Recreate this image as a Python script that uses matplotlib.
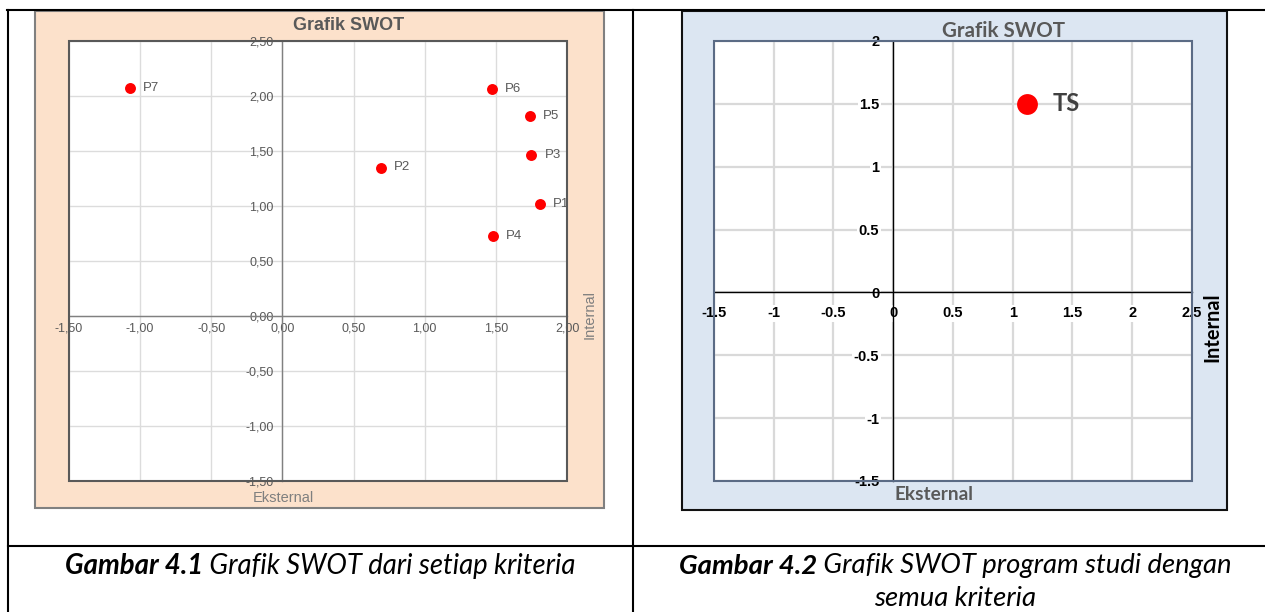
import matplotlib
matplotlib.use("Agg")
import matplotlib.pyplot as plt
from matplotlib.patches import Rectangle
from matplotlib.lines import Line2D

# ---------------- data ----------------
left_labels = ["P1", "P2", "P3", "P4", "P5", "P6", "P7"]
left_x = [1.81, 0.69, 1.75, 1.48, 1.74, 1.47, -1.07]
left_y = [1.02, 1.35, 1.46, 0.73, 1.82, 2.06, 2.07]
left_xticks = [-1.5, -1.0, -0.5, 0.0, 0.5, 1.0, 1.5, 2.0]
left_xticklabels = ["-1,50", "-1,00", "-0,50", "0,00", "0,50", "1,00", "1,50", "2,00"]
left_yticks = [-1.5, -1.0, -0.5, 0.0, 0.5, 1.0, 1.5, 2.0, 2.5]
left_yticklabels = ["-1,50", "-1,00", "-0,50", "0,00", "0,50", "1,00", "1,50", "2,00", "2,50"]

right_labels = ["TS"]
right_x = [1.12]
right_y = [1.5]
right_xticks = [-1.5, -1.0, -0.5, 0.0, 0.5, 1.0, 1.5, 2.0, 2.5]
right_xticklabels = ["-1.5", "-1", "-0.5", "0", "0.5", "1", "1.5", "2", "2.5"]
right_yticks = [-1.5, -1.0, -0.5, 0.0, 0.5, 1.0, 1.5, 2.0]
right_yticklabels = ["-1.5", "-1", "-0.5", "0", "0.5", "1", "1.5", "2"]

chart_title = "Grafik SWOT"
x_name = "Eksternal"
y_name = "Internal"
cap1 = [("Gambar 4.1", "bold"), (" Grafik SWOT dari setiap kriteria", "normal")]
cap2 = [("Gambar 4.2", "bold"), (" Grafik SWOT program studi dengan", "normal")]
cap2b = "semua kriteria"

# ---------------- layout ----------------
W, H, DPI = 1265, 612, 100
ARIAL = ["Liberation Sans", "DejaVu Sans"]
CAL = ["Lato", "DejaVu Sans"]

fig = plt.figure(figsize=(W / DPI, H / DPI), dpi=DPI)
fig.patch.set_facecolor("white")
renderer = fig.canvas.get_renderer()


def fx(x):
    return x / W


def fy(y):
    return 1 - y / H


def rect_px(x0, y0, x1, y1):
    return [fx(x0), fy(y1), (x1 - x0) / W, (y1 - y0) / H]


def fit(t, target, vertical=False):
    bb = t.get_window_extent(renderer)
    w = bb.height if vertical else bb.width
    t.set_fontsize(t.get_fontsize() * target / w)


def style_labels(ax, **props):
    for lab in list(ax.get_xticklabels()) + list(ax.get_yticklabels()):
        lab.set(**props)


# chart frames
fig.patches.append(Rectangle((fx(35), fy(508)), (604 - 35) / W, (508 - 11) / H,
                             transform=fig.transFigure, facecolor="#FCE1CB",
                             edgecolor="#808080", lw=1.5, zorder=-1))
fig.patches.append(Rectangle((fx(682), fy(510)), (1227 - 682) / W, (510 - 11) / H,
                             transform=fig.transFigure, facecolor="#DCE6F2",
                             edgecolor="#111111", lw=1.5, zorder=-1))

# ---------------- left chart ----------------
axL = fig.add_axes(rect_px(69, 41, 567, 481))
axL.set_facecolor("white")
axL.set_xlim(-1.5, 2.0)
axL.set_ylim(-1.5, 2.5)
axL.set_xticks(left_xticks, labels=left_xticklabels)
axL.set_yticks(left_yticks, labels=left_yticklabels)
axL.tick_params(axis="both", length=0, labelsize=9, labelcolor="#595959")
axL.tick_params(axis="x", pad=4.5)
axL.tick_params(axis="y", pad=6.5)
for s in ["top", "right"]:
    axL.spines[s].set_visible(False)
for s in ["left", "bottom"]:
    axL.spines[s].set_position("zero")
    axL.spines[s].set_color("#808080")
    axL.spines[s].set_linewidth(1.0)
axL.grid(True, color="#DCDCDC", lw=1.0)
axL.set_axisbelow(True)
axL.add_patch(Rectangle((0, 0), 1, 1, transform=axL.transAxes, fill=False,
                        edgecolor="#595959", lw=1.5, clip_on=False, zorder=5))
axL.scatter(left_x, left_y, s=62, color="#FF0000", zorder=6, clip_on=False, linewidths=0)
for lab, x, y in zip(left_labels, left_x, left_y):
    axL.annotate(lab, (x, y), xytext=(9.4, 0), textcoords="offset points",
                 ha="left", va="center", fontsize=9.5, color="#595959", family=ARIAL)
style_labels(axL, family=ARIAL)

fig.text(fx(349), fy(25), chart_title, ha="center", va="center", fontsize=13,
         weight="bold", color="#595959", family=ARIAL)
fig.text(fx(283), fy(498), x_name, ha="center", va="center", fontsize=10.5,
         color="#7F7F7F", family=ARIAL)
fig.text(fx(590), fy(315), y_name, ha="center", va="center", fontsize=10.5,
         rotation=90, color="#7F7F7F", family=ARIAL)

# ---------------- right chart ----------------
axR = fig.add_axes(rect_px(714, 41, 1192, 481))
axR.set_facecolor("white")
axR.set_xlim(-1.5, 2.5)
axR.set_ylim(-1.5, 2.0)
axR.set_xticks(right_xticks, labels=right_xticklabels)
axR.set_yticks(right_yticks, labels=right_yticklabels)
axR.tick_params(axis="both", length=0, labelsize=10.5, labelcolor="black")
axR.tick_params(axis="x", pad=10)
axR.tick_params(axis="y", pad=10)
for s in ["top", "right"]:
    axR.spines[s].set_visible(False)
for s in ["left", "bottom"]:
    axR.spines[s].set_position("zero")
    axR.spines[s].set_color("black")
    axR.spines[s].set_linewidth(1.0)
axR.grid(True, color="#D9D9D9", lw=1.6)
axR.set_axisbelow(True)
axR.add_patch(Rectangle((0, 0), 1, 1, transform=axR.transAxes, fill=False,
                        edgecolor="#5B6B85", lw=1.5, clip_on=False, zorder=5))
axR.scatter(right_x, right_y, s=225, color="#FF0000", zorder=6, linewidths=0)
for lab, x, y in zip(right_labels, right_x, right_y):
    axR.annotate(lab, (x, y), xytext=(18.5, 0), textcoords="offset points",
                 ha="left", va="center", fontsize=17, weight="bold",
                 color="#404040", family=CAL)
style_labels(axR, family=ARIAL, weight="bold")
# white backing behind inner tick labels (they hide the gridlines)
xlabs = list(axR.get_xticklabels())
ylabs = list(axR.get_yticklabels())
for lab in xlabs[1:-1] + ylabs[1:-1]:
    lab.set_bbox(dict(facecolor="white", edgecolor="none", pad=1.0))

t = fig.text(fx(1003), fy(31), chart_title, ha="center", va="center", fontsize=13,
             weight="bold", color="#595959", family=CAL)
fit(t, 123)
t = fig.text(fx(894), fy(494), x_name, ha="left", va="center", fontsize=13,
             weight="bold", color="#595959", family=CAL)
fit(t, 79)
t = fig.text(fx(1212), fy(327), y_name, ha="center", va="center", fontsize=13,
             weight="bold", rotation=90, color="black", family=CAL)
fit(t, 69, vertical=True)

# ---------------- table lines ----------------
lw_tab = 1.5
fig.add_artist(Line2D([fx(7), 1.0], [fy(10), fy(10)], transform=fig.transFigure, color="black", lw=lw_tab))
fig.add_artist(Line2D([fx(8), 1.0], [fy(546), fy(546)], transform=fig.transFigure, color="black", lw=lw_tab))
fig.add_artist(Line2D([fx(8), fx(8)], [fy(10), 0.0], transform=fig.transFigure, color="black", lw=lw_tab))
fig.add_artist(Line2D([fx(633), fx(633)], [fy(10), 0.0], transform=fig.transFigure, color="black", lw=lw_tab))


# ---------------- captions ----------------
def caption(parts, cx, y, target_w):
    base = 14.0
    texts = [fig.text(0, fy(y), s, fontsize=base, va="center", ha="left", family=CAL,
                      style="italic", weight=wt, color="black") for s, wt in parts]
    ws = [tt.get_window_extent(renderer).width for tt in texts]
    fs = base * target_w / sum(ws)
    for tt in texts:
        tt.set_fontsize(fs)
    ws = [tt.get_window_extent(renderer).width for tt in texts]
    x = cx - sum(ws) / 2
    for tt, w in zip(texts, ws):
        tt.set_x(fx(x))
        x += w
    return fs


caption(cap1, 320, 566, 513)
fs2 = caption(cap2, 955, 566, 555)
fig.text(fx(955), fy(599), cap2b, ha="center", va="center", fontsize=fs2,
         style="italic", family=CAL, color="black")

fig.savefig("out.png", dpi=DPI)
